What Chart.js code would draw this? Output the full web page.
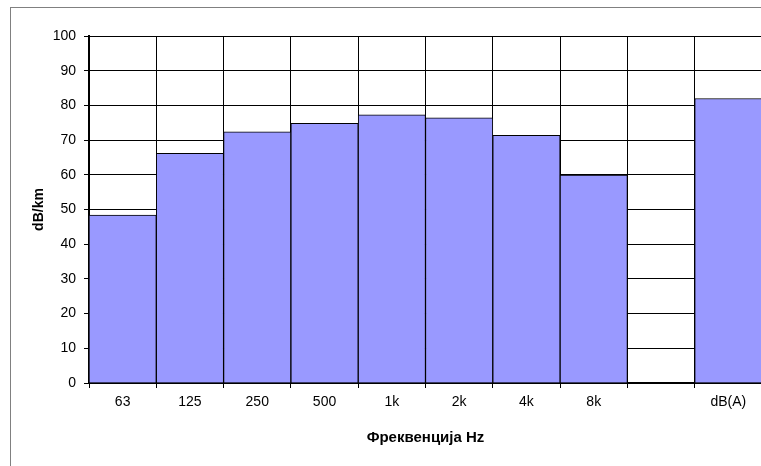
<!DOCTYPE html>
<html>
<head>
<meta charset="utf-8">
<script src="https://cdn.jsdelivr.net/npm/chart.js@4/dist/chart.umd.min.js"></script>
<style>
  html, body { margin: 0; padding: 0; overflow: hidden; background: #fff; }
  #wrap { position: relative; width: 770px; height: 466px; }
</style>
</head>
<body>
<div id="wrap"><canvas id="c"></canvas></div>
<script>
const categories = ['63', '125', '250', '500', '1k', '2k', '4k', '8k', '', 'dB(A)'];
const values = [48.4, 66.2, 72.4, 74.8, 77.3, 76.4, 71.4, 59.9, null, 82.0];
const yTicks = [0, 10, 20, 30, 40, 50, 60, 70, 80, 90, 100];
const xTitle = 'Фреквенција Hz';
const yTitle = 'dB/km';

const frame = {
  id: 'frame',
  beforeDraw(chart) {
    const ctx = chart.ctx;
    ctx.save();
    ctx.fillStyle = '#fff';
    ctx.fillRect(0, 0, chart.width, chart.height);
    ctx.strokeStyle = '#808080';
    ctx.lineWidth = 1;
    ctx.strokeRect(10.5, 7.5, 900, 600);
    ctx.restore();
  }
};

new Chart(document.getElementById('c'), {
  type: 'bar',
  data: {
    labels: categories,
    datasets: [{
      data: values,
      backgroundColor: '#9999FF',
      borderColor: '#000',
      borderWidth: 1,
      barPercentage: 1,
      categoryPercentage: 1
    }]
  },
  options: {
    responsive: true,
    maintainAspectRatio: false,
    animation: false,
    layout: { padding: { left: 0, top: 36, right: 8, bottom: 0 } },
    plugins: { legend: { display: false }, tooltip: { enabled: false } },
    scales: {
      x: {
        afterFit(s) { s.height = 83; },
        grid: { color: '#000', lineWidth: 1, offset: true, drawTicks: true, tickLength: 5, tickColor: '#000' },
        border: { color: '#000', width: 2 },
        ticks: { color: '#000', font: { family: 'Liberation Sans, Arial', size: 14 }, padding: 6, maxRotation: 0, autoSkip: false },
        title: { display: true, text: xTitle, color: '#000', font: { family: 'Liberation Sans, Arial', size: 15, weight: 'bold' }, padding: { top: 0, bottom: 19 } }
      },
      y: {
        min: 0, max: 100,
        afterFit(s) { s.width = 89; },
        afterBuildTicks(s) { s.ticks = yTicks.map(v => ({ value: v })); },
        grid: { color: '#000', lineWidth: 1, drawTicks: true, tickLength: 5, tickColor: '#000' },
        border: { color: '#000', width: 2 },
        ticks: { color: '#000', font: { family: 'Liberation Sans, Arial', size: 14 }, padding: 8 },
        title: { display: true, text: yTitle, color: '#000', font: { family: 'Liberation Sans, Arial', size: 14, weight: 'bold' }, padding: { top: 31, bottom: 0 } }
      }
    }
  },
  plugins: [frame]
});
</script>
</body>
</html>
